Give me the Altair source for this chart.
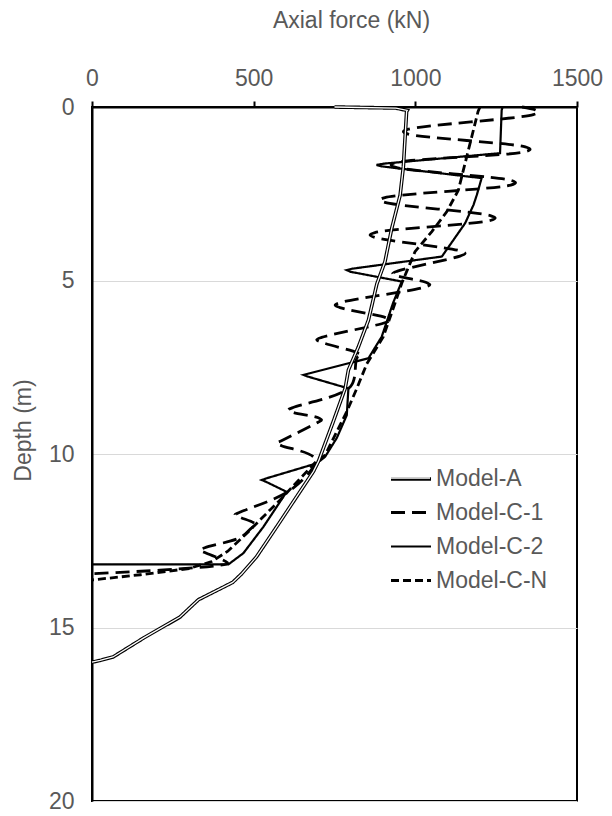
import altair as alt
import pandas as pd

series_names = ["Model-A", "Model-C-1", "Model-C-2", "Model-C-N"]

a_force = [750, 940, 975, 973, 963, 953, 927, 906, 881, 855, 824, 793, 783, 746, 700, 685, 633, 571, 509, 463, 435, 329, 272, 160, 65, 25, 0]
a_depth = [0, 0.03, 0.1, 0.13, 1.72, 2.54, 3.5, 4.46, 5.1, 6.14, 6.91, 7.58, 8.11, 9.07, 10.22, 10.5, 11.23, 12.1, 12.96, 13.45, 13.7, 14.2, 14.7, 15.3, 15.85, 15.95, 16.0]

c1_force = [1330, 1370, 1380, 1365, 978, 963, 978, 1340, 1355, 1340, 940, 925, 940, 1295, 1310, 1295,
            906, 891, 906, 1232, 1247, 1232, 875, 860, 875, 1140, 1154, 1140, 945, 930, 945, 1032, 1045, 1030,
            767, 752, 767, 908, 922, 908, 710, 695, 710, 820, 834, 820, 800, 622, 607, 622, 698, 710, 698,
            586, 571, 586, 690, 620, 457, 442, 457, 500, 509, 495, 460, 349, 334, 349, 410, 420, 0]
c1_depth = [0, 0.08, 0.15, 0.22, 0.64, 0.71, 0.78, 1.15, 1.22, 1.29, 1.6, 1.67, 1.74, 2.11, 2.18, 2.25,
            2.61, 2.68, 2.75, 3.13, 3.2, 3.27, 3.62, 3.69, 3.76, 4.15, 4.22, 4.29, 4.73, 4.8, 4.87, 5.05, 5.12, 5.19,
            5.64, 5.71, 5.78, 6.07, 6.14, 6.21, 6.64, 6.71, 6.78, 7.08, 7.15, 7.22, 8.05, 8.66, 8.73, 8.8, 8.95, 9.02, 9.09,
            9.62, 9.69, 9.76, 10.15, 11.0, 11.68, 11.75, 11.82, 11.98, 12.05, 12.12, 12.4, 12.7, 12.77, 12.84, 13.08, 13.15, 13.45]

c2_force = [1270, 1267, 1262, 905, 880, 895, 1205, 1190, 1180, 1154, 1082, 805, 788, 800, 958, 931, 896, 855,
            670, 654, 668, 793, 788, 757, 721, 695, 540, 525, 538, 602, 530, 468, 422, 0]
c2_depth = [0, 0.09, 1.33, 1.63, 1.67, 1.71, 2.05, 2.54, 2.82, 3.35, 4.31, 4.66, 4.7, 4.75, 5.03, 5.65, 6.62, 7.24,
            7.68, 7.72, 7.77, 8.11, 8.88, 9.54, 10.08, 10.27, 10.7, 10.75, 10.8, 11.09, 12.1, 12.86, 13.18, 13.18]

cn_force = [1200, 1194, 1133, 1097, 1051, 999, 975, 958, 937, 901, 850, 819, 788, 752, 721, 695, 581, 478, 420, 370, 300, 150, 0]
cn_depth = [0, 0.13, 2.4, 3.02, 3.59, 4.17, 4.7, 5.08, 5.66, 6.62, 7.4, 8.11, 8.78, 9.45, 10.03, 10.2, 11.33, 12.29, 12.8, 13.1, 13.3, 13.48, 13.63]

x_ticks = [0, 500, 1000, 1500]
y_ticks = [0, 5, 10, 15, 20]

frames = []
for name, f, d in [("Model-A", a_force, a_depth), ("Model-C-1", c1_force, c1_depth),
                   ("Model-C-2", c2_force, c2_depth), ("Model-C-N", cn_force, cn_depth)]:
    frames.append(pd.DataFrame({"series": name, "force": f, "depth": d, "idx": list(range(len(f)))}))
df = pd.concat(frames, ignore_index=True)
df_a = df[df["series"] == "Model-A"].assign(ov="Model-A")
df_c1 = df[df["series"] == "Model-C-1"]
df_rest = df[df["series"] != "Model-C-1"]

GRAY = "#595959"
FONT = "Liberation Sans"
FS = 23

x_enc = alt.X("force:Q",
              scale=alt.Scale(domain=[0, 1500], nice=False, zero=False),
              axis=alt.Axis(orient="top", title="Axial force (kN)", values=x_ticks, grid=False, format="d",
                            labelFlush=False, tickSize=6, tickWidth=2, tickColor="black", labelPadding=11,
                            titleX=259, titleY=-80, titleBaseline="alphabetic", titleAlign="center"))
y_enc = alt.Y("depth:Q",
              scale=alt.Scale(domain=[0, 20], reverse=True, nice=False, zero=False),
              axis=alt.Axis(title="Depth (m)", values=y_ticks, grid=True, tickSize=0, labelPadding=18,
                            labelFlush=False, format="d",
                            titleX=-62, titleY=323, titleBaseline="alphabetic", titleAlign="center"))

leg_common = dict(orient="none", legendX=297, legendY=350, title=None, padding=0,
                  symbolType="stroke", symbolSize=1600, labelOffset=3, rowPadding=-3,
                  labelFontSize=FS, labelFont=FONT, labelColor=GRAY)

enc_common = dict(
    x=x_enc, y=y_enc,
    color=alt.Color("series:N", scale=alt.Scale(domain=series_names, range=["black"] * 4),
                    legend=alt.Legend(**leg_common)),
    strokeDash=alt.StrokeDash("series:N",
                              scale=alt.Scale(domain=series_names, range=[[1, 0], [14, 7], [1, 0], [8, 4]]),
                              legend=alt.Legend(**leg_common)),
    strokeWidth=alt.StrokeWidth("series:N",
                                scale=alt.Scale(type="ordinal", domain=series_names, range=[3.6, 2.8, 2.2, 2.8]),
                                legend=alt.Legend(**leg_common)),
    order=alt.Order("idx:Q"),
)

rest = alt.Chart(df_rest).mark_line().encode(**enc_common)
c1 = alt.Chart(df_c1).mark_line(interpolate="catmull-rom").encode(**enc_common)

overlay = alt.Chart(df_a).mark_line(color="white", strokeWidth=1.3).encode(
    x=x_enc, y=y_enc,
    opacity=alt.Opacity("ov:N", scale=alt.Scale(domain=["Model-A"], range=[1]),
                        legend=alt.Legend(symbolStrokeColor="white", symbolStrokeWidth=1.3,
                                          labelExpr="''", **leg_common)),
    order=alt.Order("idx:Q"),
)

chart = alt.layer(rest, c1, overlay).properties(
    width=485, height=694,
    autosize=alt.AutoSizeParams(type="none"),
    padding={"left": 84, "top": 99, "right": 27, "bottom": 20},
).configure_view(
    stroke="black", strokeWidth=2
).configure_axis(
    domainColor="black", domainWidth=2,
    labelColor=GRAY, labelFont=FONT, labelFontSize=FS,
    titleColor=GRAY, titleFont=FONT, titleFontSize=FS, titleFontWeight="normal",
    gridColor="#d9d9d9", gridWidth=1,
)

chart.save("out.html", embed_options={"renderer": "svg", "actions": False})
